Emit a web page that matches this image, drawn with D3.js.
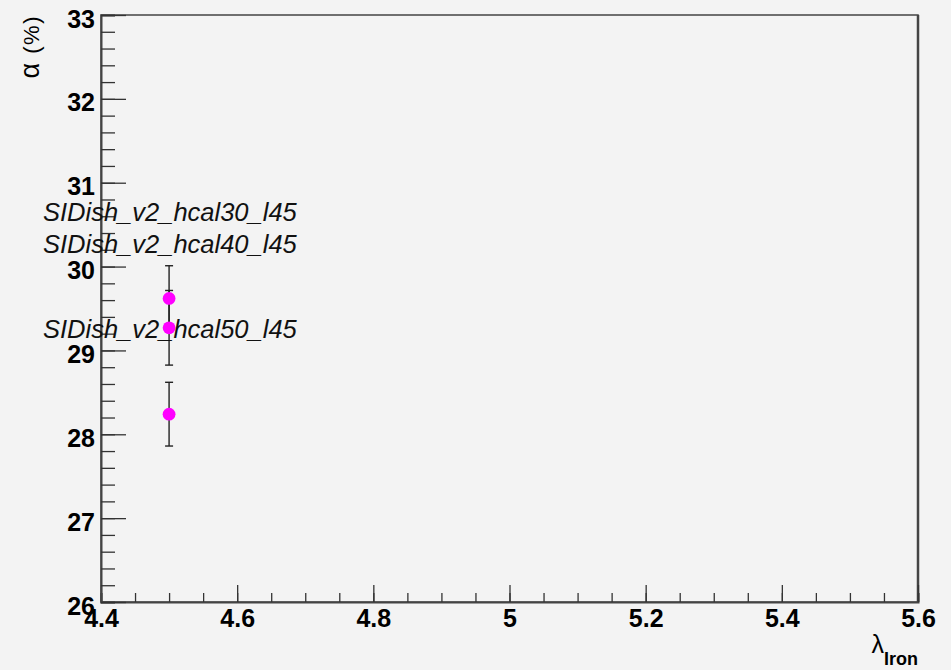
<!DOCTYPE html>
<html>
<head>
<meta charset="utf-8">
<script src="https://cdn.jsdelivr.net/npm/d3@7"></script>
<style>
  html, body { margin: 0; padding: 0; background: #f3f3f3; }
  svg { display: block; font-family: "Liberation Sans", Arial, Helvetica, sans-serif; }
</style>
</head>
<body>
<svg id="chart" width="951" height="670"></svg>
<script>
// ---------------------------------------------
//  Data
// ---------------------------------------------
const detectors = ["SIDish_v2_hcal30_l45", "SIDish_v2_hcal40_l45", "SIDish_v2_hcal50_l45"];
const lambdaIron = [4.5, 4.5, 4.5];
const alphaPct = [29.62, 29.27, 28.24];
const alphaErr = [0.39, 0.445, 0.38];
// y (in %) where each detector name sits
const labelAt = [30.54, 30.16, 29.15];

const xTickValues = [4.4, 4.6, 4.8, 5.0, 5.2, 5.4, 5.6];
const yTickValues = [26, 27, 28, 29, 30, 31, 32, 33];

// ---------------------------------------------
//  Frame & scales
// ---------------------------------------------
const svg = d3.select("#chart");
const frame = { left: 101, top: 15, right: 918, bottom: 602 };

const x = d3.scaleLinear().domain([4.4, 5.6]).range([frame.left, frame.right]);
const y = d3.scaleLinear().domain([26, 33]).range([frame.bottom, frame.top]);

svg.append("rect")
  .attr("width", 951).attr("height", 670)
  .attr("fill", "#f3f3f3");

// frame box
svg.append("rect")
  .attr("x", frame.left).attr("y", frame.top)
  .attr("width", frame.right - frame.left)
  .attr("height", frame.bottom - frame.top)
  .attr("fill", "none")
  .attr("stroke", "#444")
  .attr("stroke-width", 1.5);
svg.append("line")
  .attr("x1", frame.right).attr("x2", frame.right)
  .attr("y1", frame.top).attr("y2", frame.bottom)
  .attr("stroke", "#444").attr("stroke-width", 2.5);

// ---------------------------------------------
//  Axes (ticks inside the frame, ROOT style)
// ---------------------------------------------
const xMinor = d3.range(4.4, 5.6001, 0.05);
const xAxis = svg.append("g").attr("transform", `translate(0,${frame.bottom})`);
xAxis.call(d3.axisTop(x).tickValues(xMinor).tickSize(9).tickFormat(""));
xAxis.call(g => g.selectAll(".tick line").attr("stroke", "#333").attr("stroke-width", 1.3));
xAxis.select(".domain").attr("stroke", "#444").attr("stroke-width", 2);

const xMajor = svg.append("g").attr("transform", `translate(0,${frame.bottom})`);
xMajor.call(d3.axisTop(x).tickValues(xTickValues).tickSize(17).tickFormat(d3.format("")));
xMajor.select(".domain").remove();
xMajor.selectAll(".tick line").attr("stroke", "#333").attr("stroke-width", 1.3);
xMajor.selectAll(".tick text")
  .attr("y", 25)
  .attr("dy", 0)
  .attr("fill", "#000")
  .style("font-size", "25px")
  .style("font-weight", "bold")
  .attr("text-anchor", "middle");

const yMinor = d3.range(26, 33.0001, 0.2);
const yAxis = svg.append("g").attr("transform", `translate(${frame.left},0)`);
yAxis.call(d3.axisRight(y).tickValues(yMinor).tickSize(14).tickFormat(""));
yAxis.selectAll(".tick line").attr("stroke", "#333").attr("stroke-width", 1.3);
yAxis.select(".domain").attr("stroke", "#444").attr("stroke-width", 2);

const yMajor = svg.append("g").attr("transform", `translate(${frame.left},0)`);
yMajor.call(d3.axisRight(y).tickValues(yTickValues).tickSize(25).tickFormat(d3.format("d")));
yMajor.select(".domain").remove();
yMajor.selectAll(".tick line").attr("stroke", "#333").attr("stroke-width", 1.3);
yMajor.selectAll(".tick text")
  .attr("x", -6)
  .attr("dy", 0)
  .attr("y", 12)
  .attr("fill", "#000")
  .attr("text-anchor", "end")
  .style("font-size", "25px")
  .style("font-weight", "bold");

// axis titles
const yTitle = svg.append("text")
  .attr("transform", `translate(39,${frame.top}) rotate(-90)`)
  .attr("text-anchor", "end")
  .style("font-size", "22px")
  .style("letter-spacing", "1.5px");
yTitle.append("tspan").style("font-size", "27px").text("\u03b1");
yTitle.append("tspan").text(" (%)");

const xTitle = svg.append("text")
  .attr("x", frame.right)
  .attr("y", 653)
  .attr("text-anchor", "end");
xTitle.append("tspan").style("font-size", "25px").text("\u03bb");
xTitle.append("tspan").attr("dy", 12).style("font-size", "18px").style("font-weight", "bold").text("Iron");

// ---------------------------------------------
//  Points with error bars
// ---------------------------------------------
const pts = d3.range(alphaPct.length).map(i => ({
  name: detectors[i], lx: lambdaIron[i], a: alphaPct[i], e: alphaErr[i], ly: labelAt[i]
}));

const bars = svg.append("g").attr("stroke", "#222").attr("stroke-width", 1.4);
pts.forEach(d => {
  const cx = x(d.lx);
  bars.append("line")
    .attr("x1", cx).attr("x2", cx)
    .attr("y1", y(d.a + d.e)).attr("y2", y(d.a - d.e));
  [d.a + d.e, d.a - d.e].forEach(v => {
    bars.append("line")
      .attr("x1", cx - 4).attr("x2", cx + 4)
      .attr("y1", y(v)).attr("y2", y(v));
  });
});

svg.append("g").selectAll("circle")
  .data(pts)
  .join("circle")
  .attr("cx", d => x(d.lx))
  .attr("cy", d => y(d.a))
  .attr("r", 6.4)
  .attr("fill", "#ff00ff");

// detector names
svg.append("g").selectAll("text")
  .data(pts)
  .join("text")
  .attr("x", 43)
  .attr("y", d => y(d.ly))
  .style("font-size", "25.5px")
  .style("font-style", "italic")
  .attr("fill", "#111")
  .text(d => d.name);
</script>
</body>
</html>
